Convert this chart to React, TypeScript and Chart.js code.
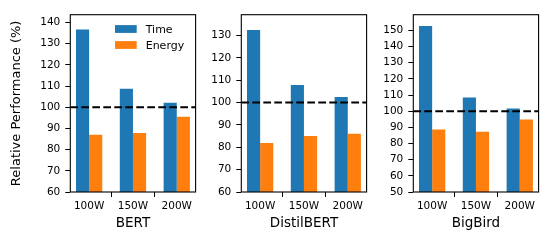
import React, { useEffect, useRef } from "react";
import { Chart, registerables } from "chart.js";

Chart.register(...registerables);

// ---------- data ----------
const categories = ["100W", "150W", "200W"];
const seriesNames = ["Time", "Energy"];
const seriesColors = ["#1f77b4", "#ff7f0e"];
const modelNames = ["BERT", "DistilBERT", "BigBird"];

const bertTime = [136.7, 108.8, 102.1];
const bertEnergy = [87.0, 87.9, 95.5];
const distilTime = [132.5, 107.9, 102.5];
const distilEnergy = [81.9, 85.1, 86.0];
const bigbirdTime = [152.7, 108.5, 101.6];
const bigbirdEnergy = [88.6, 87.3, 94.8];

const yMins = [60, 60, 50];
const yMaxs = [143.7, 139.3, 159.7];
const yStep = 10;
const baseline = 100;
const yTitle = "Relative Performance (%)";

const timeSeries = [bertTime, distilTime, bigbirdTime];
const energySeries = [bertEnergy, distilEnergy, bigbirdEnergy];

// ---------- layout ----------
const FONT = "'DejaVu Sans', 'Liberation Sans', sans-serif";
const H = 241;
const panels = [
  { left: 0, width: 205, axisWidth: 70.3, padRight: 9.4 },
  { left: 205, width: 170, axisWidth: 36.3, padRight: 8.4 },
  { left: 375, width: 183, axisWidth: 38.3, padRight: 19.4 },
];

const overlayPlugin = {
  id: "overlay",
  afterDatasetsDraw(chart: any) {
    const { ctx, chartArea: ca, scales } = chart;
    const y = scales.y.getPixelForValue(baseline);
    ctx.save();
    ctx.beginPath();
    ctx.rect(ca.left, ca.top, ca.right - ca.left, ca.bottom - ca.top);
    ctx.clip();
    ctx.setLineDash([7.7, 3.3]);
    ctx.lineWidth = 2;
    ctx.strokeStyle = "#000";
    ctx.beginPath();
    ctx.moveTo(ca.left, y);
    ctx.lineTo(ca.right, y);
    ctx.stroke();
    ctx.restore();
    ctx.save();
    ctx.lineWidth = 1.1;
    ctx.strokeStyle = "#000";
    ctx.strokeRect(ca.left, ca.top, ca.right - ca.left, ca.bottom - ca.top);
    ctx.restore();
  },
};

const legendPlugin = {
  id: "innerLegend",
  afterDraw(chart: any) {
    const { ctx, chartArea: ca } = chart;
    const patchLeft = ca.left + 44.7;
    const patchW = 21.7;
    const patchH = 7.8;
    const textX = patchLeft + patchW + 9;
    ctx.save();
    ctx.font = `11px ${FONT}`;
    ctx.textAlign = "left";
    ctx.textBaseline = "alphabetic";
    seriesNames.forEach((name, i) => {
      const cy = ca.top + 14.3 + i * 16;
      ctx.fillStyle = seriesColors[i];
      ctx.fillRect(patchLeft, cy - patchH / 2, patchW, patchH);
      ctx.fillStyle = "#000";
      ctx.fillText(name, textX, cy + 4.2);
    });
    ctx.restore();
  },
};

function Panel({ idx }: { idx: number }) {
  const ref = useRef<HTMLCanvasElement | null>(null);
  const p = panels[idx];
  useEffect(() => {
    if (!ref.current) return;
    const tickGrid = {
      display: true,
      drawOnChartArea: false,
      drawTicks: true,
      tickLength: 5,
      color: "#000",
      lineWidth: 1,
    };
    const chart = new Chart(ref.current, {
      type: "bar",
      data: {
        datasets: [
          {
            label: seriesNames[0],
            data: categories.map((_, i) => ({ x: i, y: timeSeries[idx][i] })),
            backgroundColor: seriesColors[0],
            borderWidth: 0,
          },
          {
            label: seriesNames[1],
            data: categories.map((_, i) => ({ x: i, y: energySeries[idx][i] })),
            backgroundColor: seriesColors[1],
            borderWidth: 0,
          },
        ],
      },
      options: {
        animation: false,
        responsive: false,
        maintainAspectRatio: false,
        devicePixelRatio: 1,
        layout: { padding: { left: 0, right: p.padRight, top: 14.7, bottom: 0 } },
        datasets: { bar: { categoryPercentage: 0.6, barPercentage: 1 } },
        plugins: { legend: { display: false }, tooltip: { enabled: false } },
        scales: {
          x: {
            type: "linear",
            min: -0.43,
            max: categories.length - 1 + 0.43,
            bounds: "data",
            offset: false,
            afterBuildTicks: (s: any) => {
              s.ticks = categories.map((_, i) => ({ value: i }));
            },
            afterFit: (s: any) => {
              s.height = 49;
            },
            ticks: {
              callback: (v: any) => categories[Math.round(v)] ?? "",
              font: { size: 10.5, family: FONT },
              color: "#000",
              padding: 3,
              maxRotation: 0,
              autoSkip: false,
            },
            grid: tickGrid,
            border: { display: false },
            title: {
              display: true,
              text: modelNames[idx],
              font: { size: 13.5, family: FONT },
              color: "#000",
              padding: { top: 0, bottom: 9.9 },
            },
          },
          y: {
            type: "linear",
            min: yMins[idx],
            max: yMaxs[idx],
            bounds: "data",
            afterBuildTicks: (s: any) => {
              const ticks: { value: number }[] = [];
              const start = Math.ceil(yMins[idx] / yStep) * yStep;
              for (let v = start; v <= yMaxs[idx] + 1e-9; v += yStep) {
                ticks.push({ value: v });
              }
              s.ticks = ticks;
            },
            afterFit: (s: any) => {
              s.width = p.axisWidth;
            },
            ticks: {
              stepSize: yStep,
              font: { size: 10.5, family: FONT },
              color: "#000",
              padding: 5,
            },
            grid: tickGrid,
            border: { display: false },
            title:
              idx === 0
                ? {
                    display: true,
                    text: yTitle,
                    font: { size: 13, family: FONT },
                    color: "#000",
                    padding: { top: 9.2, bottom: 0 },
                  }
                : { display: false },
          },
        },
      } as any,
      plugins: idx === 0 ? [overlayPlugin, legendPlugin] : [overlayPlugin],
    } as any);
    return () => chart.destroy();
  }, [idx]);
  return (
    <canvas
      ref={ref}
      width={p.width}
      height={H}
      style={{ position: "absolute", left: p.left, top: 0, width: p.width, height: H }}
    />
  );
}

export default function App() {
  Chart.defaults.font.family = FONT;
  return (
    <div
      style={{
        position: "fixed",
        left: 0,
        top: 0,
        width: 558,
        height: H,
        background: "#fff",
        overflow: "hidden",
      }}
    >
      {panels.map((_, i) => (
        <Panel key={i} idx={i} />
      ))}
    </div>
  );
}
